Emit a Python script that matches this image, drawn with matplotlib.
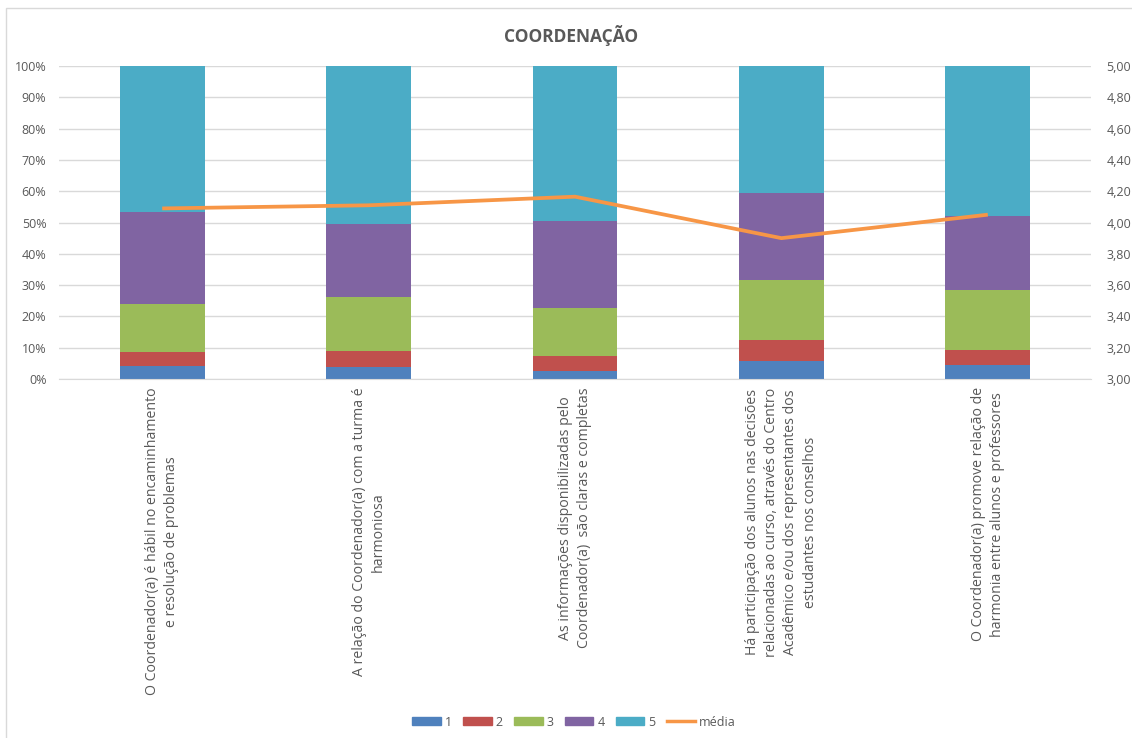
import matplotlib
matplotlib.use("Agg")
import matplotlib.pyplot as plt
from matplotlib.patches import Rectangle
from matplotlib.lines import Line2D
import numpy as np

plt.rcParams['font.family'] = ['Open Sans', 'DejaVu Sans']

categories = [
    "O Coordenador(a) é hábil no encaminhamento\ne resolução de problemas",
    "A relação do Coordenador(a) com a turma é\nharmoniosa",
    "As informações disponibilizadas pelo\nCoordenador(a)  são claras e completas",
    "Há participação dos alunos nas decisões\nrelacionadas ao curso, através do Centro\nAcadêmico e/ou dos representantes dos\nestudantes nos conselhos",
    "O Coordenador(a) promove relação de\nharmonia entre alunos e professores",
]

# Share of answers (%) for each score level
nota_1 = [4.2, 3.7, 2.6, 5.8, 4.5]
nota_2 = [4.4, 5.3, 4.8, 6.6, 4.8]
nota_3 = [15.5, 17.2, 15.3, 19.3, 19.2]
nota_4 = [29.2, 23.3, 27.8, 27.7, 23.7]
nota_5 = [46.7, 50.5, 49.5, 40.6, 47.8]
media = [4.09, 4.11, 4.165, 3.90, 4.05]

series_labels = ["1", "2", "3", "4", "5"]
colors = ["#4f81bd", "#c0504d", "#9bbb59", "#8064a2", "#4bacc6"]
line_color = "#f79646"
text_color = "#595959"
grid_color = "#d9d9d9"

W, H = 1132, 738
fig = plt.figure(figsize=(W / 100, H / 100), dpi=100)

# chart frame
fig.patches.append(Rectangle((6 / W, -0.1), 1.2, (H - 8) / H + 0.1,
                             transform=fig.transFigure, fill=False,
                             edgecolor="#d9d9d9", linewidth=1.0))

left, right, top, bottom = 59, 1091, 66, 379
ax = fig.add_axes([left / W, 1 - bottom / H, (right - left) / W, (bottom - top) / H])
ax2 = ax.twinx()

x = np.arange(len(categories))
series = [nota_1, nota_2, nota_3, nota_4, nota_5]
base = np.zeros(len(categories))
for vals, c, lab in zip(series, colors, series_labels):
    ax.bar(x, vals, width=0.41, bottom=base, color=c, label=lab, zorder=2)
    base += np.array(vals)

ax.set_xlim(-0.5, len(categories) - 0.5)
ax.set_ylim(0, 100)
ax.set_yticks(np.arange(0, 101, 10))
ax.set_yticklabels([f"{v}%" for v in range(0, 101, 10)])
ax.yaxis.grid(True, color=grid_color, linewidth=1.0, zorder=0)
ax.set_axisbelow(True)
for s in ax.spines.values():
    s.set_visible(False)
for s in ax2.spines.values():
    s.set_visible(False)
ax.spines['bottom'].set_visible(True)
ax.spines['bottom'].set_color(grid_color)
ax.tick_params(axis='y', length=0, pad=9, labelsize=9, labelcolor=text_color)
ax.tick_params(axis='x', length=0, pad=6)
ax.set_xticks(x)
ax.set_xticklabels(categories, rotation=90, ha='center', va='top',
                   fontsize=10.2, color=text_color, multialignment='center',
                   linespacing=1.38)

ax2.plot(x, media, color=line_color, linewidth=2.7, zorder=3, solid_capstyle='butt')
ax2.set_ylim(3.0, 5.0)
ax2.set_yticks(np.arange(3.0, 5.01, 0.2))
ax2.set_yticklabels([f"{v:.2f}".replace('.', ',') for v in np.arange(3.0, 5.01, 0.2)])
ax2.tick_params(axis='y', length=0, pad=11, labelsize=9, labelcolor=text_color)

fig.text(571 / W, 1 - 35 / H, "COORDENAÇÃO", ha='center', va='center',
         fontsize=12.5, fontweight='bold', color=text_color)

handles = [Rectangle((0, 0), 1, 1, color=c) for c in colors]
handles.append(Line2D([0], [0], color=line_color, linewidth=2.5))
labels = series_labels + ["média"]
leg = fig.legend(handles, labels, loc='center', bbox_to_anchor=(574 / W, 1 - 722 / H),
                 ncol=6, frameon=False, fontsize=9, handlelength=2.3,
                 handleheight=0.55, columnspacing=0.9, handletextpad=0.3)
for t in leg.get_texts():
    t.set_color(text_color)

fig.savefig("out.png", dpi=100, facecolor="white")
